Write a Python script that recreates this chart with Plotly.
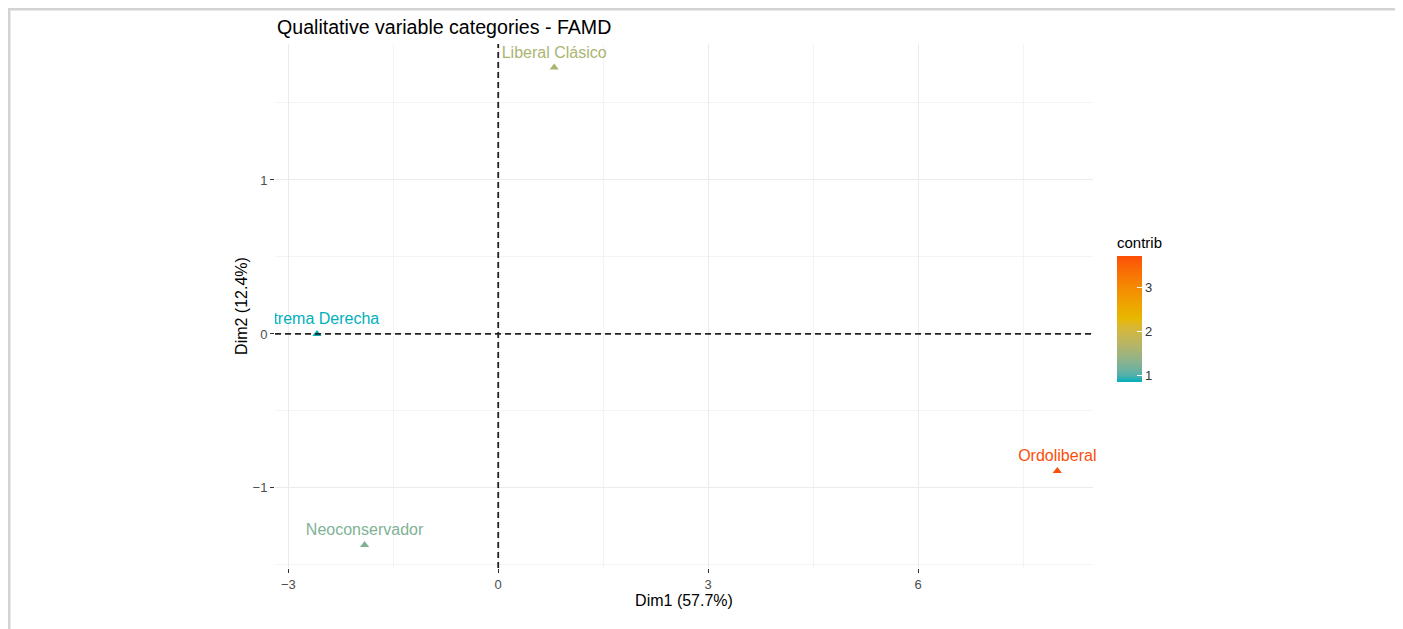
import plotly.graph_objects as go
import numpy as np

# ---- data ----
categories = ["Liberal Clásico", "Extrema Derecha", "Neoconservador", "Ordoliberal"]
dim1 = [0.80, -2.59, -1.91, 7.99]
dim2 = [1.73, 0.00, -1.37, -0.89]
contrib = [1.60, 0.86, 1.25, 3.70]
gradient_colors = ["#00AFBB", "#E7B800", "#FC4E07"]
x_ticks = [-3, 0, 3, 6]
y_ticks = [-1, 0, 1]
clip_label = [False, True, False, False]

# ---- Lab interpolation (like ggplot's gradientn) ----
def hex2rgb(h):
    h = h.lstrip("#")
    return np.array([int(h[i:i + 2], 16) for i in (0, 2, 4)]) / 255.0

def srgb2lin(c):
    return np.where(c <= 0.04045, c / 12.92, ((c + 0.055) / 1.055) ** 2.4)

def lin2srgb(c):
    c = np.clip(c, 0, 1)
    return np.where(c <= 0.0031308, c * 12.92, 1.055 * c ** (1 / 2.4) - 0.055)

M = np.array([[0.4124, 0.3576, 0.1805], [0.2126, 0.7152, 0.0722], [0.0193, 0.1192, 0.9505]])
Minv = np.linalg.inv(M)
WHITE = np.array([0.95047, 1.0, 1.08883])

def f(t):
    return np.where(t > (6 / 29) ** 3, np.cbrt(t), t / (3 * (6 / 29) ** 2) + 4 / 29)

def finv(t):
    return np.where(t > 6 / 29, t ** 3, 3 * (6 / 29) ** 2 * (t - 4 / 29))

def rgb2lab(rgb):
    xyz = M @ srgb2lin(rgb) / WHITE
    fx, fy, fz = f(xyz)
    return np.array([116 * fy - 16, 500 * (fx - fy), 200 * (fy - fz)])

def lab2rgb(lab):
    L, a, b = lab
    fy = (L + 16) / 116
    fx = fy + a / 500
    fz = fy - b / 200
    xyz = finv(np.array([fx, fy, fz])) * WHITE
    return lin2srgb(Minv @ xyz)

labs = [rgb2lab(hex2rgb(c)) for c in gradient_colors]

def color_at(t):
    t = min(max(t, 0.0), 1.0)
    n = len(labs) - 1
    i = min(int(t * n), n - 1)
    u = t * n - i
    lab = labs[i] * (1 - u) + labs[i + 1] * u
    r, g, b = (lab2rgb(lab) * 255).round().astype(int)
    return f"rgb({r},{g},{b})"

cmin, cmax = min(contrib), max(contrib)
colorscale = [[s, color_at(s)] for s in np.linspace(0, 1, 21)]
text_colors = [color_at((v - cmin) / (cmax - cmin)) for v in contrib]

FONT = "Liberation Sans, Arial, Helvetica, sans-serif"

# page offset (body margin of 8px)
OFF = 8
L, R, T, B = 275 - OFF, 1093 - OFF, 44 - OFF, 568 - OFF
W, H = 1403, 629
pw, ph = R - L, B - T

def px(x):
    return (x - OFF - L) / pw

def py(y):
    return (B - (y - OFF)) / ph

fig = go.Figure()
for clip in (True, False):
    idx = [i for i in range(len(categories)) if clip_label[i] == clip]
    marker = dict(symbol="triangle-up", size=8, color=[contrib[i] for i in idx],
                  colorscale=colorscale, cmin=cmin, cmax=cmax)
    if not clip:
        marker["colorbar"] = dict(
            title=dict(text="contrib", side="top", font=dict(size=15, color="#000", family=FONT)),
            x=px(1117), xanchor="left", xref="paper", xpad=0,
            y=py(308), yanchor="middle", len=168 / ph, lenmode="fraction",
            thickness=25, outlinewidth=0,
            tickvals=[1, 2, 3], ticks="inside", ticklen=5, tickcolor="white",
            tickfont=dict(size=13, color="#333", family=FONT),
        )
    fig.add_trace(go.Scatter(
        x=[dim1[i] for i in idx], y=[dim2[i] for i in idx],
        mode="markers+text", text=[categories[i] for i in idx],
        textposition="top center",
        textfont=dict(color=[text_colors[i] for i in idx], size=16, family=FONT),
        marker=marker, showlegend=False, cliponaxis=clip,
    ))

# dashed reference lines
fig.add_hline(y=0, line=dict(color="#222", width=1.8, dash="6px,4px"))
fig.add_vline(x=0, line=dict(color="#222", width=1.8, dash="6px,4px"))

fig.update_xaxes(
    range=[-3.19, 8.5], tickvals=x_ticks, zeroline=False,
    showgrid=True, gridcolor="#ebebeb", gridwidth=1,
    minor=dict(dtick=1.5, tick0=-1.5, showgrid=True, gridcolor="#f4f4f4", gridwidth=1),
    ticks="outside", ticklen=4, tickcolor="#333", tickwidth=1,
    tickfont=dict(size=13, color="#4d4d4d", family=FONT),
    title=dict(text="Dim1 (57.7%)", font=dict(size=16, color="#000", family=FONT), standoff=3),
    showline=False,
)
fig.update_yaxes(
    range=[-1.52, 1.883], tickvals=y_ticks, zeroline=False,
    showgrid=True, gridcolor="#ebebeb", gridwidth=1,
    minor=dict(dtick=1.0, tick0=-1.5, showgrid=True, gridcolor="#f4f4f4", gridwidth=1),
    ticks="outside", ticklen=4, tickcolor="#333", tickwidth=1,
    tickfont=dict(size=13, color="#4d4d4d", family=FONT),
    title=dict(text="Dim2 (12.4%)", font=dict(size=16, color="#000", family=FONT), standoff=0),
    showline=False,
)

# outer frame lines (top and left)
fig.add_shape(type="line", xref="paper", yref="paper", x0=px(8), x1=px(1420), y0=py(9), y1=py(9),
              line=dict(color="#d3d3d3", width=3))
fig.add_shape(type="line", xref="paper", yref="paper", x0=px(9), x1=px(9), y0=py(9), y1=py(640),
              line=dict(color="#d3d3d3", width=3))

fig.update_layout(
    width=W, height=H,
    margin=dict(l=L, r=W - R, t=T, b=H - B, autoexpand=False),
    paper_bgcolor="white", plot_bgcolor="white",
    font=dict(family=FONT),
    title=dict(text="Qualitative variable categories - FAMD", x=px(277), xref="paper", xanchor="left",
               y=1 - (27 - OFF) / H, yref="container", yanchor="middle",
               font=dict(size=19.6, color="#000", family=FONT)),
)

fig.write_html("out.html")
